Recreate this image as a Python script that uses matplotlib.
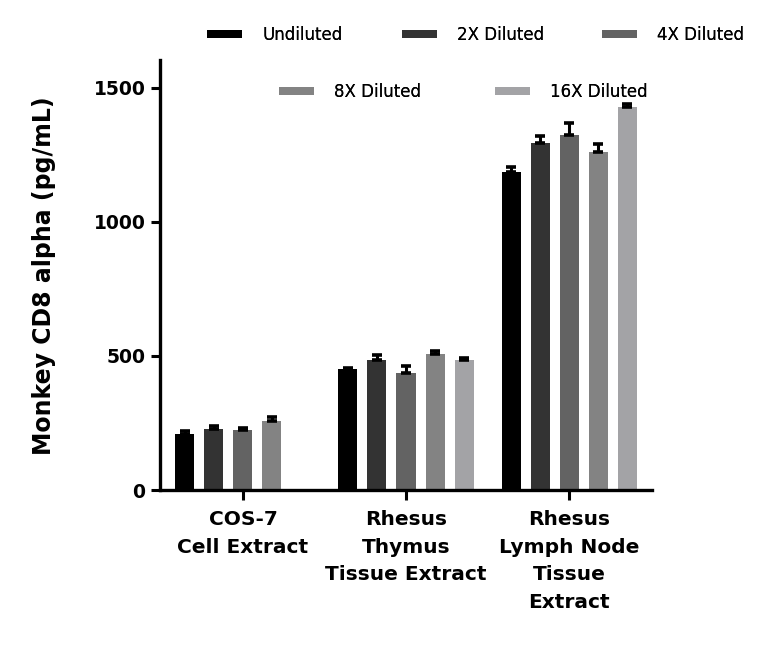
import matplotlib
matplotlib.use("Agg")
import matplotlib.pyplot as plt
from matplotlib.patches import Rectangle
import numpy as np

categories = ["COS-7\nCell Extract", "Rhesus\nThymus\nTissue Extract", "Rhesus\nLymph Node\nTissue\nExtract"]
series = ["Undiluted", "2X Diluted", "4X Diluted", "8X Diluted", "16X Diluted"]
colors = ["#000000", "#333333", "#636363", "#838383", "#a3a3a6"]
# values per series, per category (None = not measured)
means = {
    "Undiluted":   [209, 450, 1186],
    "2X Diluted":  [229, 484, 1293],
    "4X Diluted":  [223, 436, 1326],
    "8X Diluted":  [259, 507, 1262],
    "16X Diluted": [None, 485, 1428],
}
errors = {
    "Undiluted":   [11, 6, 18],
    "2X Diluted":  [10, 18, 28],
    "4X Diluted":  [8, 27, 42],
    "8X Diluted":  [14, 12, 27],
    "16X Diluted": [None, 8, 11],
}
yticks = [0, 500, 1000, 1500]
ylabel = "Monkey CD8 alpha (pg/mL)"

FONT = "DejaVu Sans"
plt.rcParams["font.family"] = [FONT]

W, H = 768, 645
fig = plt.figure(figsize=(W / 100, H / 100), dpi=100)
ax = fig.add_axes([160 / W, 1 - 490 / H, (652 - 160) / W, (490 - 60) / H])

group_step = 5.62
bar_w = 0.655
centers = np.arange(len(categories)) * group_step
n = len(series)
for j, s in enumerate(series):
    off = j - (n - 1) / 2
    for i in range(len(categories)):
        v = means[s][i]
        if v is None:
            continue
        x = centers[i] + off
        ax.bar(x, v, width=bar_w, color=colors[j], linewidth=0, zorder=2)
        ax.errorbar(x, v, yerr=[[0], [errors[s][i]]], fmt="none", ecolor="black",
                    elinewidth=2.2, capsize=3.8, capthick=2.6, zorder=3)

ax.set_xlim(-2.86, 14.10)
ax.set_ylim(0, 1604)
ax.set_yticks(yticks)
ax.set_yticklabels([str(t) for t in yticks], fontsize=13.5, fontweight="bold")
ax.set_xticks(centers)
ax.set_xticklabels(categories, fontsize=14.5, fontweight="bold", linespacing=1.57)
ax.tick_params(axis="y", length=6.5, width=2.2, pad=4)
ax.tick_params(axis="x", length=7, width=2.2, pad=7.5)
for sp in ["top", "right"]:
    ax.spines[sp].set_visible(False)
for sp in ["left", "bottom"]:
    ax.spines[sp].set_linewidth(2.4)
fig.text(44 / W, 1 - 276 / H, ylabel, rotation=90, ha="center", va="center",
         fontsize=17, fontweight="bold")

# legend entries, one at a time, at positions in the reference layout
legend_pos = [(207, 35), (402, 35), (602, 35), (279, 92), (495, 92)]
for j, s in enumerate(series):
    px, py = legend_pos[j]
    h = Rectangle((0, 0), 1, 1, facecolor=colors[j], edgecolor="none")
    lg = fig.legend([h], [s], loc="center left", bbox_to_anchor=(px / W, 1 - py / H),
                    frameon=False, fontsize=12, handlelength=2.1, handleheight=0.42,
                    handletextpad=1.2, borderpad=0, borderaxespad=0)
    fig.add_artist(lg)

fig.savefig("out.png", dpi=100)
